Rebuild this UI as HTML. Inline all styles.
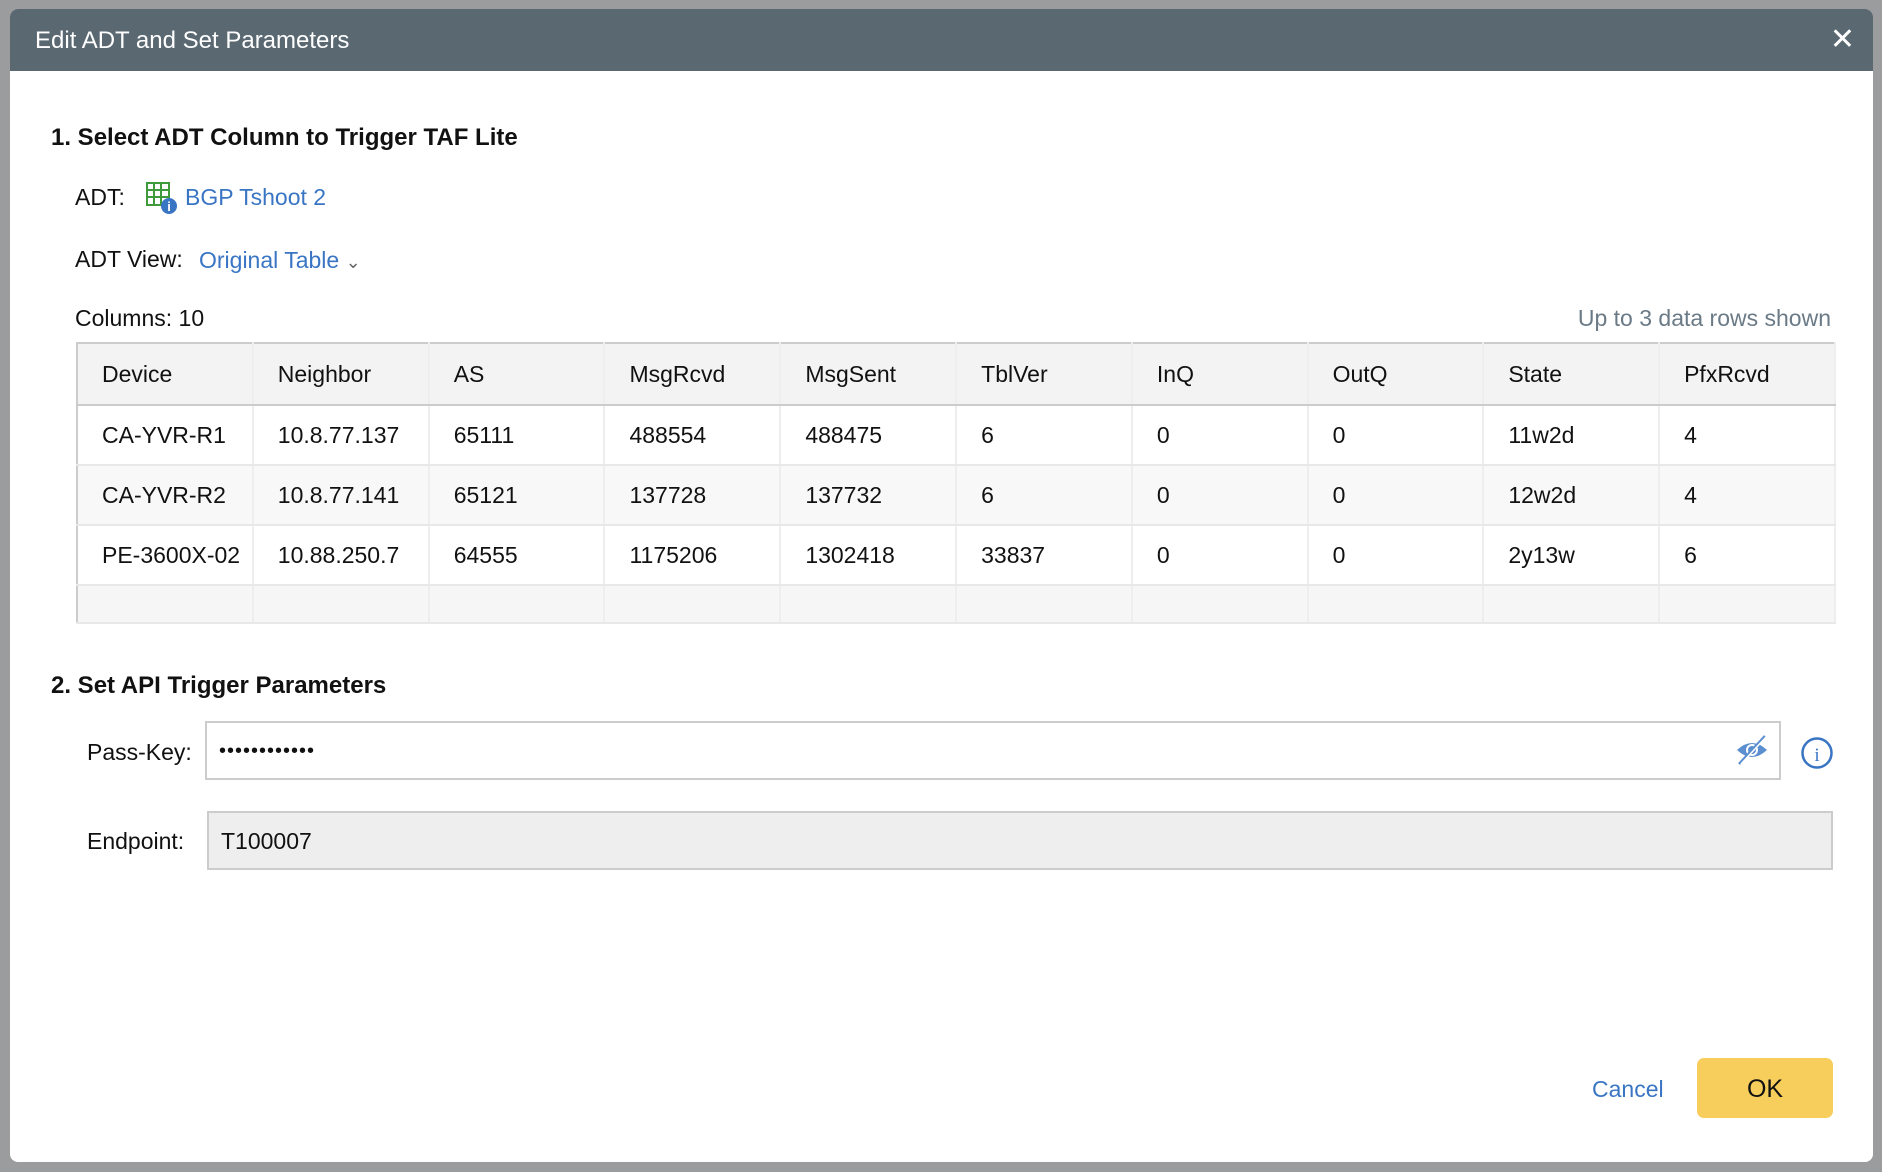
<!DOCTYPE html>
<html><head><style>
*{box-sizing:border-box;margin:0;padding:0}
body{width:1882px;height:1172px;background:#9a9c9e;position:relative;overflow:hidden;font-family:"Liberation Sans",sans-serif;color:#111}
.dlg{position:absolute;left:10px;top:9px;width:1863px;height:1153px;background:#fff;border-radius:8px;overflow:hidden}
.hdr{position:absolute;left:0;top:0;right:0;height:62px;background:#5a6872;color:#fff;font-size:24px;line-height:64px;padding-left:25px}
.x{position:absolute;right:18px;top:0;color:#fff;font-size:30px;line-height:62px;font-family:"DejaVu Sans",sans-serif;font-weight:200}
.a{position:absolute;white-space:nowrap;font-size:23px}
.b{font-weight:bold;font-size:24px}
.l{color:#3a75c4}
table{position:absolute;left:76px;top:342px;width:1760px;border-collapse:collapse;border:2px solid #ccc;font-size:23px}
td{height:60px;padding-left:24px;border-right:2px solid #eee;border-bottom:2px solid #e8e8e8;width:176px}
tr.h td{background:#f3f3f3;height:62px;border-bottom:2px solid #ccc}
tr.g td{background:#f8f8f8}
tr.f td{background:#f6f6f6;height:38px}
.inp{position:absolute;border:2px solid #ccc}
</style></head><body>
<div class="dlg">
<div class="hdr">Edit ADT and Set Parameters<span class="x">✕</span></div>
<div class="a b" style="left:41px;top:115px">1. Select ADT Column to Trigger TAF Lite</div>
<div class="a" style="left:65px;top:175px">ADT:</div>
<svg style="position:absolute;left:136px;top:173px" width="32" height="32"><g fill="none" stroke="#3e9a3a" stroke-width="2"><rect x="1" y="1" width="22" height="22"/><line x1="1" y1="8" x2="23" y2="8"/><line x1="1" y1="15" x2="23" y2="15"/><line x1="8" y1="1" x2="8" y2="23"/><line x1="15" y1="1" x2="15" y2="23"/></g><circle cx="23" cy="24" r="8" fill="#3a75c4"/><text x="23" y="29" font-size="13" fill="#fff" text-anchor="middle" font-weight="bold">i</text></svg>
<div class="a l" style="left:175px;top:175px">BGP Tshoot 2</div>
<div class="a" style="left:65px;top:237px">ADT View:</div>
<div class="a l" style="left:189px;top:238px">Original Table <span style="color:#666;font-size:18px">⌄</span></div>
<div class="a" style="left:65px;top:296px">Columns: 10</div>
<div class="a" style="right:42px;top:296px;color:#6a7a86">Up to 3 data rows shown</div>
</div>
<table>
<tr class="h"><td>Device</td><td>Neighbor</td><td>AS</td><td>MsgRcvd</td><td>MsgSent</td><td>TblVer</td><td>InQ</td><td>OutQ</td><td>State</td><td>PfxRcvd</td></tr>
<tr><td>CA-YVR-R1</td><td>10.8.77.137</td><td>65111</td><td>488554</td><td>488475</td><td>6</td><td>0</td><td>0</td><td>11w2d</td><td>4</td></tr>
<tr class="g"><td>CA-YVR-R2</td><td>10.8.77.141</td><td>65121</td><td>137728</td><td>137732</td><td>6</td><td>0</td><td>0</td><td>12w2d</td><td>4</td></tr>
<tr><td>PE-3600X-02</td><td>10.88.250.7</td><td>64555</td><td>1175206</td><td>1302418</td><td>33837</td><td>0</td><td>0</td><td>2y13w</td><td>6</td></tr>
<tr class="f"><td></td><td></td><td></td><td></td><td></td><td></td><td></td><td></td><td></td><td></td></tr>
</table>
<div class="a b" style="left:51px;top:672px">2. Set API Trigger Parameters</div>
<div class="a" style="left:87px;top:739px">Pass-Key:</div>
<div class="inp" style="left:205px;top:721px;width:1576px;height:59px"><span class="a" style="left:12px;top:17px;font-size:20px;letter-spacing:1px">••••••••••••</span></div>
<svg style="position:absolute;left:1735px;top:733px" width="34" height="34"><path d="M2 17 Q17 3 32 17 Q17 31 2 17Z" fill="#5b8fd0"/><circle cx="17" cy="17" r="6" fill="#fff"/><circle cx="17" cy="17" r="4" fill="#5b8fd0"/><line x1="4" y1="31" x2="30" y2="3" stroke="#5b8fd0" stroke-width="2.5"/><line x1="6" y1="31" x2="32" y2="3" stroke="#fff" stroke-width="1.5"/></svg>
<svg style="position:absolute;left:1800px;top:736px" width="34" height="34"><circle cx="17" cy="17" r="14.5" fill="none" stroke="#3a75c4" stroke-width="2.5"/><text x="17" y="25" font-size="19" fill="#3a75c4" text-anchor="middle" font-family="Liberation Serif">i</text></svg>
<div class="a" style="left:87px;top:828px">Endpoint:</div>
<div class="inp" style="left:207px;top:811px;width:1626px;height:59px;background:#eee"><span class="a" style="left:12px;top:15px">T100007</span></div>
<div class="a l" style="left:1592px;top:1076px">Cancel</div>
<div style="position:absolute;left:1697px;top:1058px;width:136px;height:60px;background:#f7cd5c;border-radius:7px;text-align:center;line-height:62px;font-size:25px">OK</div>
</body></html>
